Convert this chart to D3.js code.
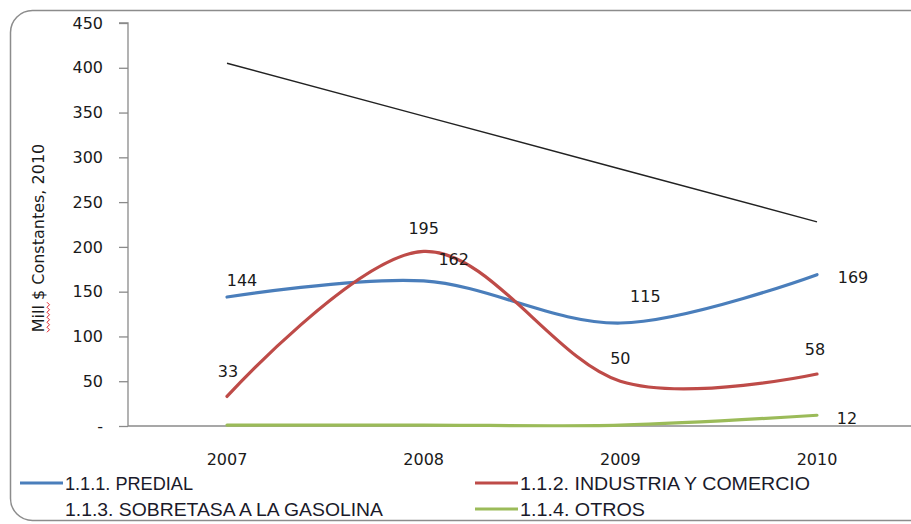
<!DOCTYPE html>
<html>
<head>
<meta charset="utf-8">
<script src="https://cdn.jsdelivr.net/npm/d3@7"></script>
<style>
  html, body { margin: 0; padding: 0; background: #fff; }
  svg { display: block; }
</style>
</head>
<body>
<svg id="chart" width="911" height="524"></svg>
<script>
// ---- data ----
const years = ["2007", "2008", "2009", "2010"];
const predial = [144, 162, 115, 169];
const industria = [33, 195, 50, 58];
const gasolina = [405, 346, 287, 228];
const otros = [1, 1, 1, 12];
const yTicks = [0, 50, 100, 150, 200, 250, 300, 350, 400, 450];
const seriesNames = ["1.1.1.  PREDIAL", "1.1.2.  INDUSTRIA Y COMERCIO", "1.1.3.  SOBRETASA A LA GASOLINA", "1.1.4.  OTROS"];

// label offsets (style)
const predialLabelOff = [[15, -17], [30, -22], [25, -27], [36, 3]];
const industriaLabelOff = [[1, -25], [0, -23], [0, -23], [-2, -25]];
const otrosLabelOff = [null, null, null, [30, 3]];

const svg = d3.select("#chart");
const W = 911, H = 524;

// frame
svg.append("rect").attr("x", 10.5).attr("y", 10.5).attr("width", 940).attr("height", 510)
  .attr("rx", 22).attr("ry", 22).attr("fill", "#fff").attr("stroke", "#8c8c8c").attr("stroke-width", 1.5);

const x = d3.scalePoint().domain(years).range([227, 817]);
const y = d3.scaleLinear().domain([0, 450]).range([426, 23]);

const textColor = "#1a1a1a";
const numFont = "'DejaVu Sans', Verdana, sans-serif";

// y axis
const yAxis = d3.axisLeft(y).tickValues(yTicks).tickSize(9).tickPadding(16)
  .tickFormat(d => d === 0 ? "-" : d3.format("d")(d));
const gy = svg.append("g").attr("transform", "translate(128,0)").call(yAxis);
gy.select(".domain").attr("stroke", "#8a8a8a").attr("stroke-width", 1.3).attr("d", `M-9,${y(450)}H0V${y(0)}`);
gy.selectAll(".tick line").attr("stroke", "#8a8a8a").attr("stroke-width", 1.3);
gy.selectAll(".tick text").attr("font-family", numFont).attr("font-size", 16).attr("fill", textColor);

// x axis line
svg.append("line").attr("x1", 128).attr("x2", W).attr("y1", y(0)).attr("y2", y(0))
  .attr("stroke", "#8a8a8a").attr("stroke-width", 1.3);

// x labels
svg.append("g").selectAll("text").data(years).join("text")
  .attr("x", d => x(d)).attr("y", 465)
  .attr("text-anchor", "middle").attr("font-family", numFont).attr("font-size", 16)
  .attr("fill", textColor).text(d => d);

// y title
const titleCY = 238;
const yt = svg.append("text")
  .attr("transform", `translate(44,${titleCY}) rotate(-90)`)
  .attr("text-anchor", "middle").attr("font-family", numFont).attr("font-size", 16)
  .attr("fill", textColor).text("Mill $ Constantes, 2010");
// spell-check squiggle under "Mill"
{
  const len = yt.node().getComputedTextLength();
  const startY = titleCY + len / 2;
  let d = `M47,${startY}`;
  for (let i = 1; i <= 12; i++) d += `L${i % 2 ? 49.5 : 47},${startY - i * 2.5}`;
  svg.append("path").attr("d", d).attr("fill", "none").attr("stroke", "#e0202a").attr("stroke-width", 1);
}

// lines
const smooth = d3.line().x((d, i) => x(years[i])).y(d => y(d)).curve(d3.curveCardinal.tension(0));
const straight = d3.line().x((d, i) => x(years[i])).y(d => y(d));

svg.append("path").attr("d", straight(gasolina)).attr("fill", "none").attr("stroke", "#222").attr("stroke-width", 1.4);
svg.append("path").attr("d", smooth(otros)).attr("fill", "none").attr("stroke", "#9BBB59").attr("stroke-width", 3.2).attr("stroke-linecap", "round");
svg.append("path").attr("d", smooth(predial)).attr("fill", "none").attr("stroke", "#4A7EBB").attr("stroke-width", 3.2).attr("stroke-linecap", "round");
svg.append("path").attr("d", smooth(industria)).attr("fill", "none").attr("stroke", "#BE4B48").attr("stroke-width", 3.2).attr("stroke-linecap", "round");

// data labels
function labels(values, offs) {
  svg.append("g").selectAll("text").data(values.map((v, i) => ({ v, i, o: offs[i] })).filter(d => d.o))
    .join("text")
    .attr("x", d => x(years[d.i]) + d.o[0])
    .attr("y", d => y(d.v) + d.o[1])
    .attr("dy", "0.36em")
    .attr("text-anchor", "middle").attr("font-family", numFont).attr("font-size", 16)
    .attr("fill", textColor).text(d => d.v);
}
labels(predial, predialLabelOff);
labels(industria, industriaLabelOff);
labels(otros, otrosLabelOff);

// legend
const legendColors = ["#4A7EBB", "#BE4B48", null, "#9BBB59"];
const legendPos = [[20, 483], [475, 483], [20, 509], [475, 509]];
const legendLen = [128, 290, 318, 125];
const lg = svg.append("g");
seriesNames.forEach((name, i) => {
  const [lx, ly] = legendPos[i];
  if (legendColors[i]) {
    lg.append("line").attr("x1", lx).attr("x2", lx + 43).attr("y1", ly).attr("y2", ly)
      .attr("stroke", legendColors[i]).attr("stroke-width", 3.2);
  }
  lg.append("text").attr("x", lx + 45).attr("y", ly).attr("dy", "0.36em")
    .attr("font-family", "'Liberation Sans Narrow', 'Arial Narrow', 'Liberation Sans', sans-serif")
    .attr("font-size", 18.5).attr("fill", "#1a1a2a")
    .attr("textLength", legendLen[i]).attr("lengthAdjust", "spacingAndGlyphs")
    .text(name);
});
</script>
</body>
</html>
